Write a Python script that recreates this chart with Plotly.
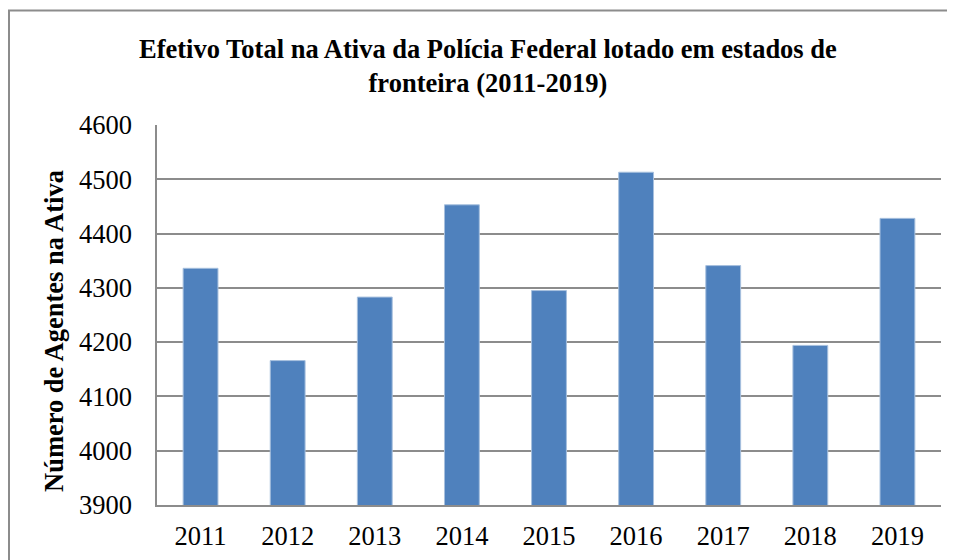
import plotly.graph_objects as go

years = ["2011", "2012", "2013", "2014", "2015", "2016", "2017", "2018", "2019"]
agentes = [4336, 4166, 4283, 4453, 4295, 4513, 4341, 4194, 4428]
y_ticks = [3900, 4000, 4100, 4200, 4300, 4400, 4500, 4600]

W, H = 955, 560
OFF = 8  # page body margin in the browser
# target plot-area edges in screen pixels
SL, SR, ST, SB = 157, 941, 125, 505
L, T = SL - OFF, ST - OFF
R, B = W - (SR - OFF), H - (SB - OFF)
pw, ph = W - L - R, H - T - B

def px_x(x):
    return (x - OFF - L) / pw

def px_y(y):
    return (H - B - (y - OFF)) / ph

FONT = "Liberation Serif"

fig = go.Figure()
fig.add_trace(go.Bar(
    x=years, y=agentes, width=0.4,
    marker=dict(color="#4F81BD", line=dict(color="#A7C0DE", width=1)),
))

fig.update_layout(
    width=W, height=H,
    margin=dict(l=L, r=R, t=T, b=B, autoexpand=False),
    paper_bgcolor="white", plot_bgcolor="white",
    showlegend=False,
    font=dict(family=FONT, color="black"),
)
fig.update_yaxes(
    range=[3900, 4600], tickvals=y_ticks, automargin=False,
    showgrid=True, gridcolor="#8C8C8C", gridwidth=1.5,
    showline=True, linecolor="#8C8C8C", linewidth=1.5,
    ticks="", ticklabelstandoff=18,
    tickfont=dict(size=26.5, family=FONT, color="black"),
    zeroline=False,
)
fig.update_xaxes(
    showline=True, linecolor="#8C8C8C", linewidth=1.5, automargin=False,
    ticks="", ticklabelstandoff=6,
    tickfont=dict(size=26.5, family=FONT, color="black"),
)

fig.add_annotation(
    text="<b>Efetivo Total na Ativa da Polícia Federal lotado em estados de<br>fronteira (2011-2019)</b>",
    xref="paper", yref="paper", x=px_x(488), y=px_y(66),
    showarrow=False, xanchor="center", yanchor="middle",
    font=dict(size=26.5, family=FONT, color="black"), align="center",
)
fig.add_annotation(
    text="<b>Número de Agentes na Ativa</b>",
    xref="paper", yref="paper", x=px_x(54), y=px_y(331),
    showarrow=False, xanchor="center", yanchor="middle", textangle=-90,
    font=dict(size=26.5, family=FONT, color="black"),
)
fig.add_shape(
    type="rect", xref="paper", yref="paper",
    x0=px_x(9), x1=px_x(990), y0=px_y(600), y1=px_y(10.5),
    line=dict(color="#8C8C8C", width=2), fillcolor="rgba(0,0,0,0)", layer="below",
)

fig.write_html("out.html")
